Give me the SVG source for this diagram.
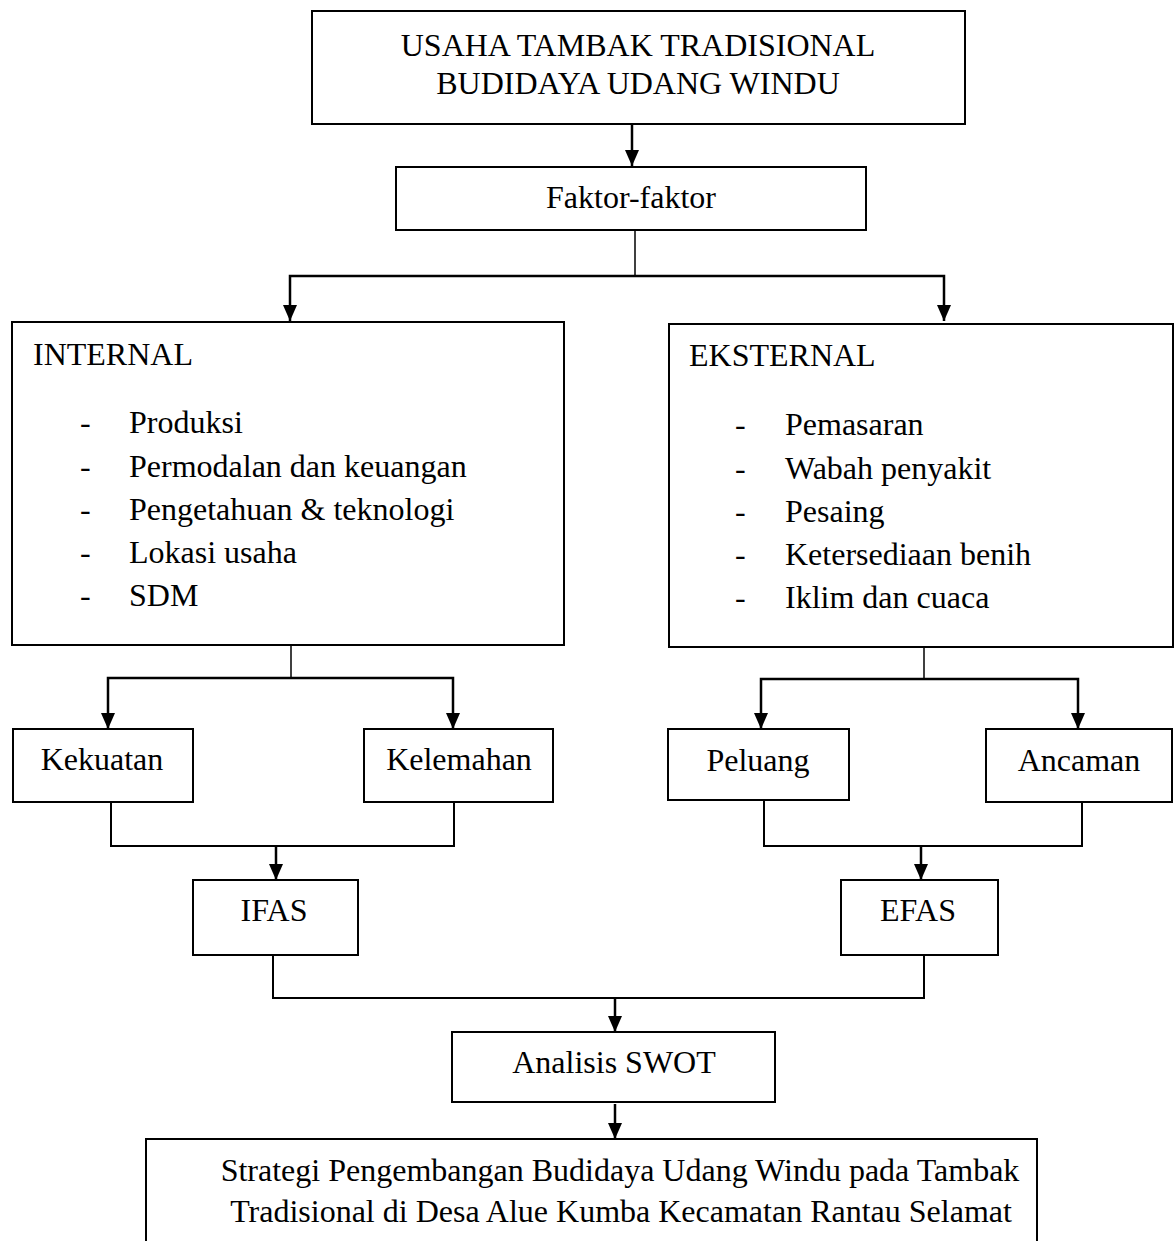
<svg xmlns="http://www.w3.org/2000/svg" width="1174" height="1241" viewBox="0 0 1174 1241">
<style>
.box{fill:#fff;stroke:#000;stroke-width:2}
text{font-family:"Liberation Serif","Times New Roman",serif;font-size:32px;fill:#000}
.c{text-anchor:middle}
.ln{fill:none;stroke:#000;stroke-width:2.5}
.thin{fill:none;stroke:#000;stroke-width:1.5}
.j{fill:none;stroke:#000;stroke-width:2}
</style>
<defs>
<marker id="a" markerUnits="userSpaceOnUse" markerWidth="16" markerHeight="14" refX="16" refY="7" orient="auto" viewBox="0 0 16 14">
<path d="M0,0 L16,7 L0,14 Z" fill="#000"/>
</marker>
</defs>
<g id="connectors">
<path class="ln" d="M632,124 V166" marker-end="url(#a)"/>
<path class="thin" d="M635,230 V276"/>
<path class="ln" d="M635,276 H944 V321" marker-end="url(#a)"/>
<path class="ln" d="M635,276 H290 V321" marker-end="url(#a)"/>
<path class="thin" d="M291,645 V678"/>
<path class="ln" d="M291,678 H453 V729" marker-end="url(#a)"/>
<path class="ln" d="M291,678 H108 V729" marker-end="url(#a)"/>
<path class="j" d="M111,802 V846 H454 V802"/>
<path class="ln" d="M276,846 V880" marker-end="url(#a)"/>
<path class="thin" d="M924,647 V679"/>
<path class="ln" d="M924,679 H1078 V729" marker-end="url(#a)"/>
<path class="ln" d="M924,679 H761 V729" marker-end="url(#a)"/>
<path class="j" d="M764,800 V846 H1082 V802"/>
<path class="ln" d="M921,846 V880" marker-end="url(#a)"/>
<path class="j" d="M273,955 V998 H924 V955"/>
<path class="ln" d="M615,998 V1032" marker-end="url(#a)"/>
<path class="ln" d="M615,1104 V1139" marker-end="url(#a)"/>
</g>
<g id="top"><rect class="box" x="312" y="11" width="653" height="113"/>
<text class="c" x="638" y="56">USAHA TAMBAK TRADISIONAL</text>
<text class="c" x="638" y="94">BUDIDAYA UDANG WINDU</text></g>
<g id="faktor"><rect class="box" x="396" y="167" width="470" height="63"/>
<text class="c" x="631" y="208">Faktor-faktor</text></g>
<g id="internal"><rect class="box" x="12" y="322" width="552" height="323"/>
<text x="33" y="365">INTERNAL</text>
<text x="80" y="433">-</text><text x="129" y="433">Produksi</text>
<text x="80" y="477">-</text><text x="129" y="477">Permodalan dan keuangan</text>
<text x="80" y="520">-</text><text x="129" y="520">Pengetahuan &amp; teknologi</text>
<text x="80" y="563">-</text><text x="129" y="563">Lokasi usaha</text>
<text x="80" y="606">-</text><text x="129" y="606">SDM</text></g>
<g id="eksternal"><rect class="box" x="669" y="324" width="504" height="323"/>
<text x="689" y="366">EKSTERNAL</text>
<text x="735" y="435">-</text><text x="785" y="435">Pemasaran</text>
<text x="735" y="479">-</text><text x="785" y="479">Wabah penyakit</text>
<text x="735" y="522">-</text><text x="785" y="522">Pesaing</text>
<text x="735" y="565">-</text><text x="785" y="565">Ketersediaan benih</text>
<text x="735" y="608">-</text><text x="785" y="608">Iklim dan cuaca</text></g>
<g id="kekuatan"><rect class="box" x="13" y="729" width="180" height="73"/>
<text class="c" x="102" y="770">Kekuatan</text></g>
<g id="kelemahan"><rect class="box" x="364" y="729" width="189" height="73"/>
<text class="c" x="459" y="770">Kelemahan</text></g>
<g id="peluang"><rect class="box" x="668" y="729" width="181" height="71"/>
<text class="c" x="758" y="771">Peluang</text></g>
<g id="ancaman"><rect class="box" x="986" y="729" width="186" height="73"/>
<text class="c" x="1079" y="771">Ancaman</text></g>
<g id="ifas"><rect class="box" x="193" y="880" width="165" height="75"/>
<text class="c" x="274" y="921">IFAS</text></g>
<g id="efas"><rect class="box" x="841" y="880" width="157" height="75"/>
<text class="c" x="918" y="921">EFAS</text></g>
<g id="swot"><rect class="box" x="452" y="1032" width="323" height="70"/>
<text class="c" x="614" y="1073">Analisis SWOT</text></g>
<g id="strategi"><rect class="box" x="146" y="1139" width="891" height="130"/>
<text class="c" x="620" y="1181">Strategi Pengembangan Budidaya Udang Windu pada Tambak</text>
<text class="c" x="621" y="1222">Tradisional di Desa Alue Kumba Kecamatan Rantau Selamat</text></g>
</svg>
